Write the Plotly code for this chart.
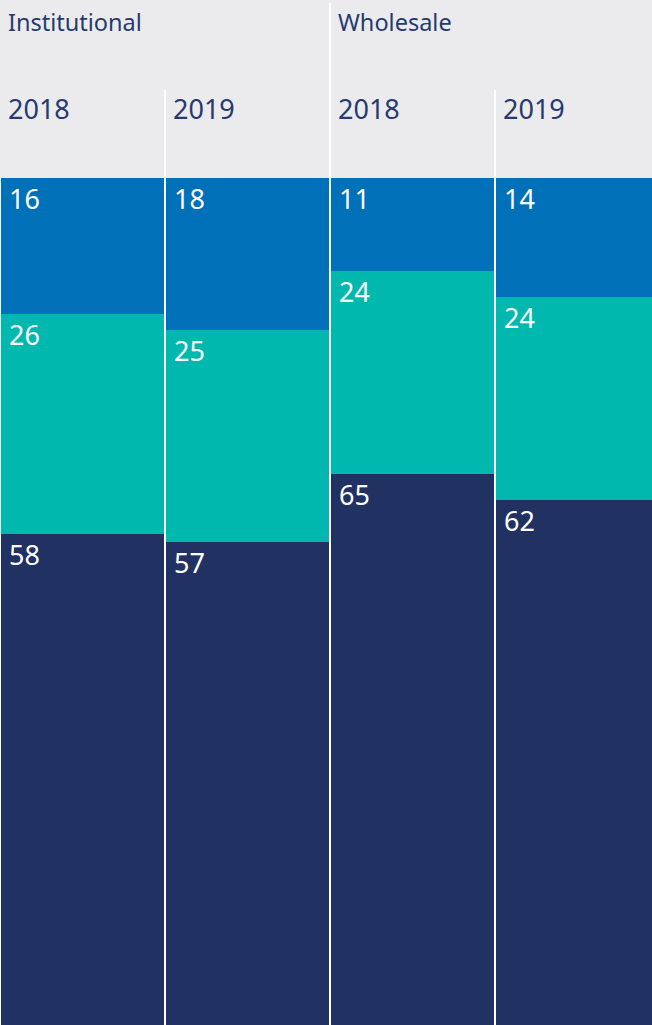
import plotly.graph_objects as go

groups = ["Institutional", "Wholesale"]
years = ["2018", "2019", "2018", "2019"]
bottom_vals = [58, 57, 65, 62]
middle_vals = [26, 25, 24, 24]
top_vals = [16, 18, 11, 14]

C_TOP = "#0070b9"
C_MID = "#00b8ae"
C_BOT = "#213262"
C_HEAD = "#ebebee"
C_TXT = "#263a6e"
FONT = "Noto Sans"

W, H = 652, 1025
bar_px = 847
ymax = 100 * H / bar_px
px_per_unit_x = 165
x0 = -82.5 / px_per_unit_x
x1 = x0 + W / px_per_unit_x
bw = 163 / 165

xs = list(range(len(years)))
fig = go.Figure()
for vals, col in [(bottom_vals, C_BOT), (middle_vals, C_MID), (top_vals, C_TOP)]:
    fig.add_trace(go.Bar(x=xs, y=vals, marker=dict(color=col, line=dict(width=0)),
                         width=bw, hoverinfo="skip", showlegend=False))

shapes = [dict(type="rect", xref="paper", yref="y", x0=0, x1=1, y0=100, y1=ymax,
               fillcolor=C_HEAD, line=dict(width=0), layer="below")]
def px_to_y(p):
    return ymax - p * 100 / bar_px
for i in range(len(years) - 1):
    xm = i + 0.5
    ytop = px_to_y(3) if i == 1 else px_to_y(90)
    shapes.append(dict(type="line", xref="x", yref="y", x0=xm, x1=xm, y0=100, y1=ytop,
                       line=dict(color="white", width=2), layer="above"))

ann = []
font_lab = dict(family=FONT, size=27, color="white")
for i in xs:
    stack = [bottom_vals[i], middle_vals[i], top_vals[i]]
    cum = 0
    tops = []
    for v in stack:
        cum += v
        tops.append(cum)
    for v, t in zip(stack, tops):
        ann.append(dict(x=i - bw / 2, y=t, xref="x", yref="y", text=str(v), showarrow=False,
                        xanchor="left", yanchor="top", xshift=6, yshift=0, font=font_lab))
    ann.append(dict(x=i - bw / 2, y=px_to_y(108), xref="x", yref="y", text=years[i], showarrow=False,
                    xanchor="left", yanchor="middle", xshift=5,
                    font=dict(family=FONT, size=27, color=C_TXT)))
for g, gi in zip(groups, [0, 2]):
    ann.append(dict(x=gi - bw / 2, y=px_to_y(22), xref="x", yref="y", text=g, showarrow=False,
                    xanchor="left", yanchor="middle", xshift=5,
                    font=dict(family=FONT, size=23.5, color=C_TXT)))

fig.update_layout(
    width=W, height=H, margin=dict(l=0, r=0, t=0, b=0),
    barmode="stack", bargap=0,
    paper_bgcolor="white", plot_bgcolor="white",
    xaxis=dict(range=[x0, x1], visible=False, fixedrange=True),
    yaxis=dict(range=[0, ymax], visible=False, fixedrange=True),
    shapes=shapes, annotations=ann,
)
fig.write_html("out.html", config={"displayModeBar": False},
               post_script="document.body.style.margin='0';document.body.style.overflow='hidden';")
